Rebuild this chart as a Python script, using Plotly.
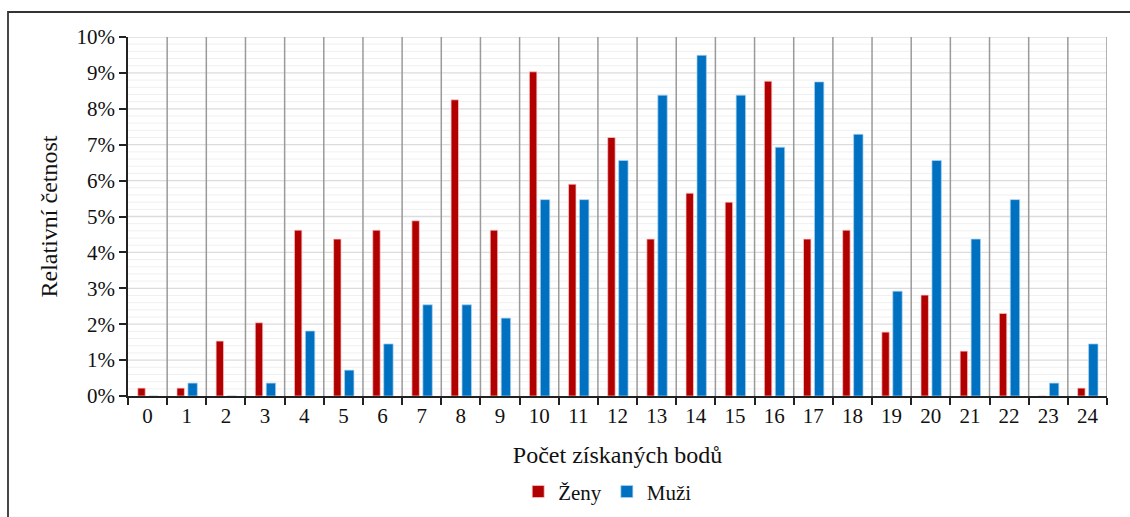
import plotly.graph_objects as go

points = list(range(25))
tick_labels = [str(p) for p in points]
zeny = [0.22, 0.22, 1.53, 2.04, 4.62, 4.37, 4.62, 4.88, 8.25, 4.62, 9.03, 5.90, 7.20,
        4.37, 5.65, 5.40, 8.77, 4.37, 4.62, 1.78, 2.81, 1.25, 2.30, 0.0, 0.22]
muzi = [0.0, 0.36, 0.0, 0.36, 1.81, 0.72, 1.45, 2.54, 2.54, 2.17, 5.47, 5.47, 6.56,
        8.38, 9.49, 8.38, 6.93, 8.75, 7.29, 2.92, 6.56, 4.37, 5.47, 0.36, 1.45]

FONT = "Liberation Serif"
RED = "#B00000"
BLUE = "#0070C0"
Y_MAX = 0.10

fig = go.Figure()
fig.add_trace(go.Bar(
    x=points, y=[v / 100 for v in zeny], name="Ženy",
    width=0.19, offset=-0.25,
    marker=dict(color=RED, line=dict(color="rgba(255,200,200,0.9)", width=0.8)),
))
fig.add_trace(go.Bar(
    x=points, y=[v / 100 for v in muzi], name="Muži",
    width=0.24, offset=0.03,
    marker=dict(color=BLUE, line=dict(color="rgba(170,210,240,0.9)", width=0.8)),
))

L, R, T, B = 128, 23, 37, 121
W, H = 1130, 517
pw, ph = W - L - R, H - T - B

shapes = [dict(
    type="rect", xref="paper", yref="paper",
    x0=(8 - L) / pw, x1=(W + 5 - L) / pw,
    y0=(H - B - (H + 5)) / ph, y1=(H - B - 12) / ph,
    line=dict(color="#333", width=1.8), fillcolor="rgba(0,0,0,0)", layer="below",
)]
# horizontal grid (minor then major), drawn below the vertical category separators
for i in range(1, 51):
    yv = i * 0.002
    major = i % 5 == 0
    shapes.append(dict(type="line", xref="paper", yref="y", x0=0, x1=1, y0=yv, y1=yv,
                       line=dict(color="#dcdcdc" if major else "#f0f0f0",
                                 width=1.3 if major else 1), layer="below"))
for p in points[1:] + [points[-1] + 1]:
    shapes.append(dict(type="line", xref="x", yref="paper", x0=p - 0.5, x1=p - 0.5,
                       y0=0, y1=1, line=dict(color="#9a9a9a", width=1.5), layer="below"))

fig.update_layout(
    width=W, height=H,
    margin=dict(l=L, r=R, t=T, b=B, autoexpand=False),
    plot_bgcolor="white", paper_bgcolor="white",
    barmode="overlay",
    font=dict(family=FONT, size=21, color="#111"),
    showlegend=True,
    legend=dict(orientation="h", x=0.49, xanchor="center", y=-0.21, yanchor="top",
                font=dict(family=FONT, size=21), itemwidth=30,
                bgcolor="rgba(0,0,0,0)", traceorder="normal"),
    xaxis=dict(
        range=[-0.5, 24.5], tickmode="array", tickvals=points, ticktext=tick_labels,
        ticks="", showgrid=False, showline=True, linecolor="#222", linewidth=1.5,
        zeroline=False, tickfont=dict(family=FONT, size=21), automargin=False,
        title=dict(text="Počet získaných bodů", font=dict(family=FONT, size=24), standoff=19),
        minor=dict(tick0=-0.5, dtick=1, ticks="outside", ticklen=7, tickwidth=1.5,
                   tickcolor="#222", showgrid=False),
    ),
    yaxis=dict(
        range=[0, Y_MAX], tickmode="linear", tick0=0, dtick=0.01, tickformat=".0%",
        ticks="outside", ticklen=7, tickwidth=1.5, tickcolor="#222",
        showline=True, linecolor="#222", linewidth=1.5,
        showgrid=False, zeroline=False,
        tickfont=dict(family=FONT, size=21), automargin=False,
        title=dict(text="Relativní četnost", font=dict(family=FONT, size=24), standoff=12),
    ),
    shapes=shapes,
)

fig.write_html("out.html", config={"displayModeBar": False},
               post_script="document.body.style.margin='0';document.body.style.overflow='hidden';")
